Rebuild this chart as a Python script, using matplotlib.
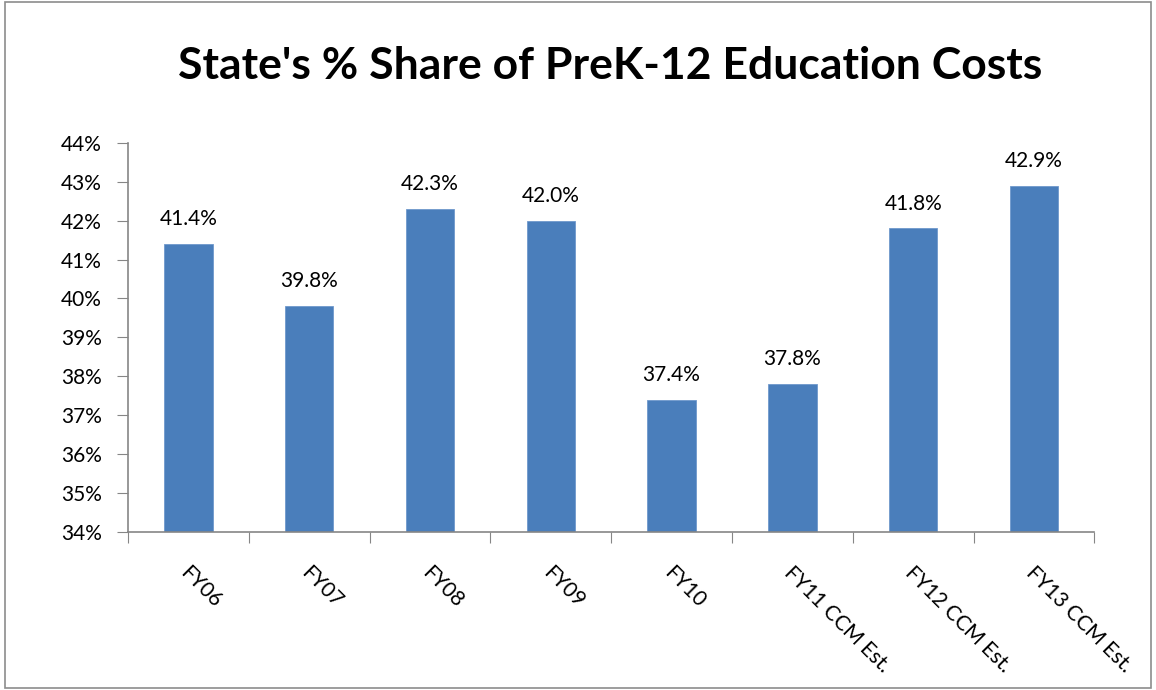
import numpy as np
import matplotlib.pyplot as plt
from matplotlib.patches import Rectangle

plt.rcParams['font.family'] = ['Lato', 'DejaVu Sans']

years = ['FY06', 'FY07', 'FY08', 'FY09', 'FY10',
         'FY11 CCM Est.', 'FY12 CCM Est.', 'FY13 CCM Est.']
share = [41.4, 39.8, 42.3, 42.0, 37.4, 37.8, 41.8, 42.9]
yticks = [34, 35, 36, 37, 38, 39, 40, 41, 42, 43, 44]

fig = plt.figure(figsize=(11.56, 6.9), dpi=100)
ax = fig.add_axes([0.1107, 0.229, 0.836, 0.564])

# outer chart border
fig.patches.append(Rectangle((0.004, 0.003), 0.992, 0.994, transform=fig.transFigure,
                             fill=False, edgecolor='#8c8c8c', linewidth=1.2))

x = np.arange(len(years))
ax.bar(x, share, width=0.4, color='#4a7ebb', edgecolor='#6f98cc', linewidth=0.6)
for xi, v in zip(x, share):
    ax.text(xi, v + 0.38, f'{v:.1f}%', ha='center', va='bottom', fontsize=15)

ax.set_xlim(-0.5, len(years) - 0.5)
ax.set_ylim(34, 44)
ax.set_yticks(yticks)
ax.set_yticklabels([f'{t}%' for t in yticks], fontsize=15)
ax.set_xticks(np.arange(len(years) + 1) - 0.5)
ax.set_xticklabels([])
# labels sit between the boundary ticks
ax.set_xticks(x + 0.02, minor=True)
ax.set_xticklabels(years, minor=True, rotation=-45, ha='left', va='top',
                   rotation_mode='anchor', fontsize=15)
ax.tick_params(axis='x', which='minor', length=0, pad=22)
ax.tick_params(axis='x', which='major', length=8, color='#868686', direction='out')
ax.tick_params(axis='y', length=8, color='#868686', direction='out', pad=11)

for s in ['top', 'right']:
    ax.spines[s].set_visible(False)
for s in ['left', 'bottom']:
    ax.spines[s].set_color('#868686')
    ax.spines[s].set_linewidth(1.2)

fig.text(0.528, 0.905, "State's % Share of PreK-12 Education Costs",
         ha='center', va='center', fontsize=32, fontweight='bold')

fig.savefig('out.png', dpi=100)
